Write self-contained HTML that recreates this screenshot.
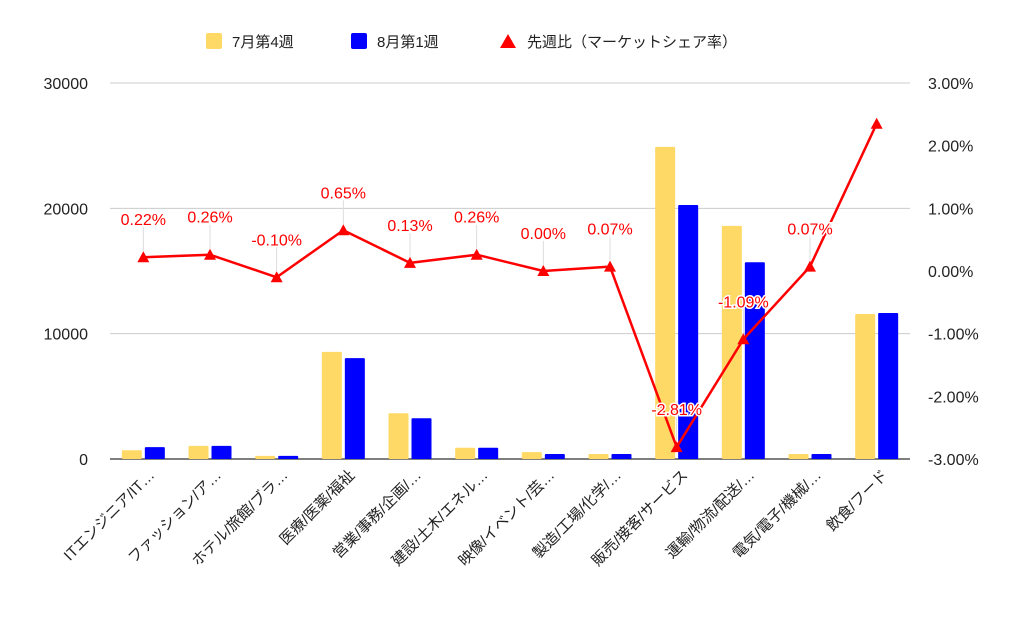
<!DOCTYPE html>
<html><head><meta charset="utf-8"><style>
body{margin:0;background:#fff;}
svg text{font-family:"Liberation Sans","Noto Sans CJK JP",sans-serif;}
</style></head><body>
<svg id="c" width="1024" height="633" xmlns="http://www.w3.org/2000/svg">
<g id="legend">
 <rect x="206" y="33" width="16" height="16" rx="2" fill="#FFD966"/>
 <text x="232" y="47" font-size="15" fill="#222">7月第4週</text>
 <rect x="351" y="33" width="16" height="16" rx="2" fill="#0000FF"/>
 <text x="377" y="47" font-size="15" fill="#222">8月第1週</text>
 <polygon points="508,34 516,48 500,48" fill="#FF0000"/>
 <text x="527" y="47" font-size="15" fill="#222">先週比（マーケットシェア率）</text>
</g>
<g id="grid"></g><g id="bars"></g><g id="line"></g><g id="labels"></g>
</svg>
<script>
const categories=["ITエンジニア/IT…","ファッション/ア…","ホテル/旅館/ブラ…","医療/医薬/福祉","営業/事務/企画/…","建設/土木/エネル…","映像/イベント/芸…","製造/工場/化学/…","販売/接客/サービス","運輸/物流/配送/…","電気/電子/機械/…","飲食/フード"];
const julyValues=[700,1050,250,8550,3650,900,550,400,24900,18600,400,11570];
const augValues=[950,1050,250,8050,3250,900,400,400,20270,15700,400,11650];
const ratioValues=[0.22,0.26,-0.10,0.65,0.13,0.26,0.00,0.07,-2.81,-1.09,0.07,2.35];
const ratioLabels=["0.22%","0.26%","-0.10%","0.65%","0.13%","0.26%","0.00%","0.07%","-2.81%","-1.09%","0.07%",""];
const leftTicks=[0,10000,20000,30000];
const rightTicks=[-3,-2,-1,0,1,2,3];
const NS="http://www.w3.org/2000/svg";
const X0=110,X1=910,YT=83,YB=459;
const step=(X1-X0)/categories.length;
const xc=i=>X0+step*(i+0.5);
const yL=v=>YB-(v/30000)*(YB-YT);
const yR=v=>YB-((v+3)/6)*(YB-YT);
function mk(t,a,p){const e=document.createElementNS(NS,t);for(const k in a)e.setAttribute(k,a[k]);p.appendChild(e);return e;}
const grid=document.getElementById('grid');
leftTicks.forEach(v=>{
 const l=mk('line',{x1:X0,x2:X1,y1:yL(v),y2:yL(v),stroke:v===0?'#333':'#ccc','stroke-width':v===0?1.3:1},grid);
 
 
 const t=mk('text',{x:88,y:yL(v)+6,'text-anchor':'end','font-size':16,fill:'#222'},grid);t.textContent=v;
 
 
});
rightTicks.forEach(v=>{
 if(v%1===0){const t=mk('text',{x:928,y:yR(v)+6,'font-size':16,fill:'#222'},grid);t.textContent=v.toFixed(2)+'%';
 
 }
});
const bars=document.getElementById('bars');
const bw=20;
categories.forEach((c,i)=>{
 const a=mk('rect',{x:xc(i)-bw-1.5,y:yL(julyValues[i]),width:bw,height:YB-yL(julyValues[i]),fill:'#FFD966',rx:1},bars);
 
 
 const b=mk('rect',{x:xc(i)+1.5,y:yL(augValues[i]),width:bw,height:YB-yL(augValues[i]),fill:'#0000FF',rx:1},bars);
 
 
 const t=mk('text',{transform:`translate(${xc(i)+12},${476}) rotate(-45)`,'text-anchor':'end','font-size':15,fill:'#222'},bars);
 t.textContent=c;
 
 
});
const line=document.getElementById('line');
const pl=mk('polyline',{points:ratioValues.map((v,i)=>xc(i)+','+yR(v)).join(' '),fill:'none',stroke:'#FF0000','stroke-width':2.5,'stroke-linejoin':'round'},line);


const lab=document.getElementById('labels');
ratioValues.forEach((v,i)=>{
 const x=xc(i),y=yR(v);
 const m=mk('polygon',{points:`${x},${y-6} ${x+6},${y+5} ${x-6},${y+5}`,fill:'#FF0000'},line);
 
 
 if(ratioLabels[i]){
  const g=mk('line',{x1:x,x2:x,y1:y-30,y2:y-6,stroke:'#ddd','stroke-width':1},lab);
  
  
  const t=mk('text',{x:x,y:y-32,'text-anchor':'middle','font-size':16,fill:'#FF0000',stroke:'#fff','stroke-width':3,'paint-order':'stroke'},lab);
  t.textContent=ratioLabels[i];
  
  
 }
});
</script>
</body></html>
